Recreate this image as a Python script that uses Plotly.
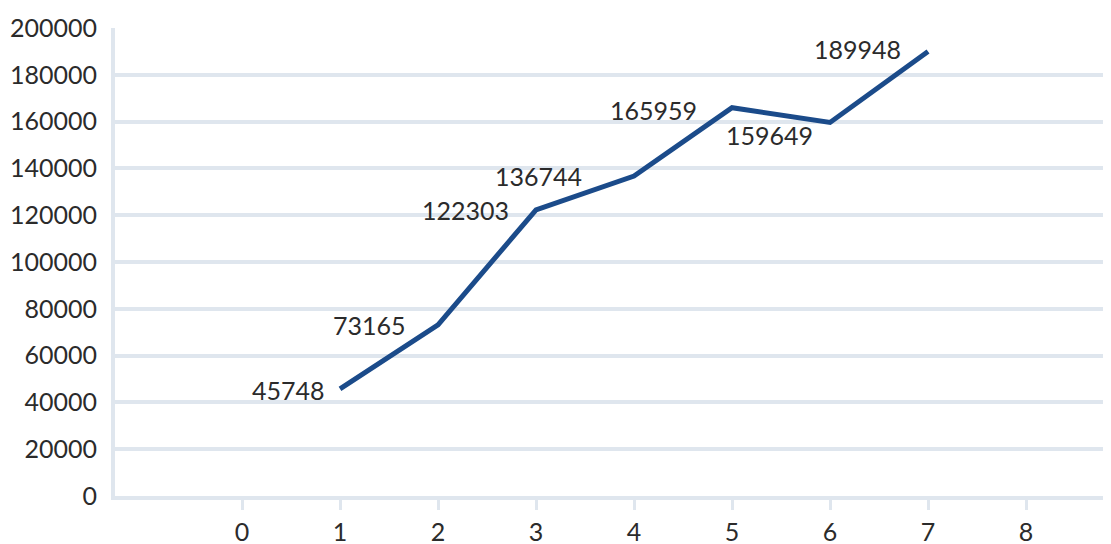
import plotly.graph_objects as go

x_vals = [1, 2, 3, 4, 5, 6, 7]
y_vals = [45748, 73165, 122303, 136744, 165959, 159649, 189948]
x_ticks = [0, 1, 2, 3, 4, 5, 6, 7, 8]
y_ticks = [0, 20000, 40000, 60000, 80000, 100000, 120000, 140000, 160000, 180000, 200000]

# label pixel offsets (style only)
label_dx = [-13, -30, -25, -50, -33, -15, -25]
label_dy = [-1, 0, 0, 0, -2, -13, 3]

FONT = "Lato"
TXT = "#2b2b2b"
GRID = "#dfe6ee"

fig = go.Figure()
fig.add_trace(go.Scatter(
    x=x_vals, y=y_vals, mode="lines",
    line=dict(color="#1b4b8a", width=5),
    showlegend=False, hoverinfo="skip",
))

for xv, yv, dx, dy in zip(x_vals, y_vals, label_dx, label_dy):
    fig.add_annotation(
        x=xv, y=yv, xref="x", yref="y", text=str(yv), showarrow=False,
        xanchor="right", yanchor="middle", xshift=dx, yshift=dy,
        font=dict(family=FONT, size=25, color=TXT),
    )

# page body has an 8px default margin; compensate so plot area lands where the reference has it
fig.update_layout(
    width=1103, height=536,
    margin=dict(l=107, r=0, t=20, b=48, autoexpand=False),
    paper_bgcolor="white", plot_bgcolor="white",
    font=dict(family=FONT, size=25, color=TXT),
)
fig.update_xaxes(
    range=[-1.296, 8.867], tickmode="array", tickvals=x_ticks,
    ticktext=[str(t) for t in x_ticks],
    showgrid=False, zeroline=False, automargin=False,
    showline=True, linecolor=GRID, linewidth=4,
    ticks="outside", ticklen=10, tickwidth=3, tickcolor=GRID,
    ticklabelstandoff=1,
)
fig.update_yaxes(
    range=[0, 200000], tickmode="array", tickvals=y_ticks,
    ticktext=[str(t) for t in y_ticks], automargin=False,
    showgrid=True, gridcolor=GRID, gridwidth=4,
    zeroline=False, showline=True, linecolor=GRID, linewidth=4,
    ticks="", ticklabelstandoff=9,
)

fig.write_html("out.html")
